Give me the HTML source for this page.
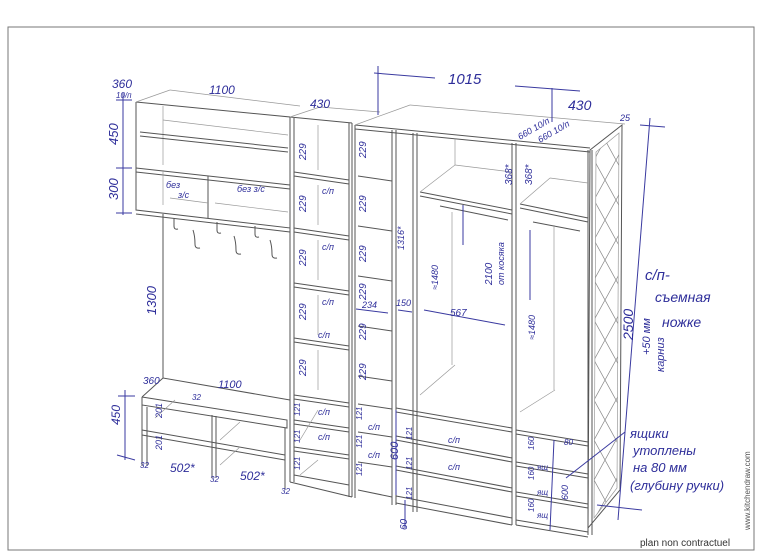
<!DOCTYPE html>
<html><head><meta charset="utf-8"><style>
html,body{margin:0;padding:0;background:#fff;}
svg{display:block}
.l{stroke:#555;stroke-width:1;fill:none}
.t{stroke:#999;stroke-width:.7;fill:none}
.b{stroke:#3a3aa0;stroke-width:1;fill:none}
text{font-family:"Liberation Sans","DejaVu Sans",sans-serif;fill:#2e2e9a;font-style:italic}
</style></head><body>
<svg width="770" height="555" viewBox="0 0 770 555" xmlns="http://www.w3.org/2000/svg">
<defs>
<pattern id="dia" width="22" height="40" patternUnits="userSpaceOnUse">
<path d="M0,0 L22,40 M22,0 L0,40" stroke="#888" stroke-width=".7" fill="none"/>
</pattern>
<clipPath id="door"><polygon points="596,152 619,133 617,488 594,518"/></clipPath>
</defs>
<rect x="8" y="27" width="746" height="523" fill="none" stroke="#777" stroke-width="1"/>

<!-- upper left shelf unit -->
<polyline class="l" points="136,102 290,117 290,228 136,210 136,102"/>
<line class="t" x1="136" y1="102" x2="170" y2="90"/>
<line class="t" x1="170" y1="90" x2="300" y2="106"/>
<line class="t" x1="163" y1="106" x2="163" y2="165"/>
<line class="l" x1="140" y1="132" x2="288" y2="148"/>
<line class="l" x1="140" y1="136" x2="288" y2="152"/>
<line class="t" x1="163" y1="120" x2="288" y2="135"/>
<line class="l" x1="136" y1="168" x2="290" y2="185"/>
<line class="l" x1="136" y1="172" x2="290" y2="189"/>
<line class="l" x1="208" y1="176" x2="208" y2="218"/>
<line class="t" x1="163" y1="170" x2="163" y2="205"/>
<line class="t" x1="170" y1="198" x2="208" y2="203"/>
<line class="t" x1="215" y1="203" x2="288" y2="212"/>
<line class="l" x1="136" y1="214" x2="290" y2="232"/>
<!-- hooks -->
<g class="l">
<path d="M174,218 v8 q0,4 4,3"/><path d="M217,222 v8 q0,4 4,3"/><path d="M255,226 v8 q0,4 4,3"/>
<path d="M193,230 q2,6 2,14 q0,5 5,4"/><path d="M234,236 q2,6 2,14 q0,5 5,4"/><path d="M270,240 q2,6 2,14 q0,5 5,4"/>
</g>
<!-- coat wall -->
<line class="l" x1="163" y1="214" x2="163" y2="378"/>
<!-- bench -->
<polyline class="l" points="142,397 163,378 290,400"/>
<polyline class="l" points="142,397 287,420 287,428 142,405 142,397"/>
<line class="l" x1="142" y1="405" x2="142" y2="466"/>
<line class="l" x1="147" y1="407" x2="147" y2="466"/>
<line class="l" x1="212" y1="415" x2="212" y2="478"/>
<line class="l" x1="216" y1="416" x2="216" y2="478"/>
<line class="l" x1="285" y1="428" x2="285" y2="490"/>
<line class="l" x1="142" y1="430" x2="285" y2="455"/>
<line class="l" x1="142" y1="435" x2="285" y2="460"/>
<line class="t" x1="155" y1="418" x2="175" y2="400"/>
<line class="t" x1="220" y1="440" x2="240" y2="422"/>
<line class="t" x1="220" y1="465" x2="240" y2="447"/>

<!-- column 1 -->
<line class="l" x1="290" y1="117" x2="290" y2="482"/>
<line class="l" x1="294" y1="118" x2="294" y2="482"/>
<line class="l" x1="349" y1="123" x2="349" y2="497"/>
<line class="l" x1="352" y1="123" x2="352" y2="497"/>
<line class="l" x1="290" y1="117" x2="352" y2="123"/>
<line class="t" x1="290" y1="117" x2="320" y2="107"/>
<line class="t" x1="320" y1="107" x2="380" y2="112"/>
<g class="l">
<path d="M294,172 L349,180 M294,176 L349,184"/>
<path d="M294,228 L349,236 M294,232 L349,240"/>
<path d="M294,283 L349,291 M294,287 L349,295"/>
<path d="M294,338 L349,346 M294,342 L349,350"/>
<path d="M294,395 L349,403 M294,399 L349,407"/>
<path d="M294,420 L349,428 M294,424 L349,432"/>
<path d="M294,447 L349,455 M294,451 L349,459"/>
<path d="M294,475 L349,485 M290,482 L352,497"/>
</g>
<g class="t">
<path d="M318,125 v45 M318,185 v40 M318,240 v40 M318,295 v40 M318,350 v40 M318,410 L300,440 M318,460 L300,475"/>
</g>

<!-- column 2 -->
<line class="l" x1="355" y1="125" x2="355" y2="498"/>
<line class="l" x1="392" y1="130" x2="392" y2="505"/>
<line class="l" x1="396" y1="130" x2="396" y2="505"/>
<line class="l" x1="355" y1="125" x2="590" y2="148"/>
<line class="l" x1="355" y1="129" x2="590" y2="152"/>
<line class="t" x1="355" y1="125" x2="410" y2="105"/>
<line class="t" x1="410" y1="105" x2="625" y2="124"/>
<g class="l">
<path d="M358,176 L392,181 M358,226 L392,231 M358,276 L392,281 M358,326 L392,331 M358,376 L392,381 M358,404 L392,409 M358,432 L392,437 M358,462 L392,467 M358,490 L392,497"/>
</g>
<!-- wardrobe -->
<line class="l" x1="413" y1="133" x2="413" y2="512"/>
<line class="l" x1="417" y1="133" x2="417" y2="512"/>
<line class="l" x1="512" y1="143" x2="512" y2="525"/>
<line class="l" x1="516" y1="143" x2="516" y2="525"/>
<line class="l" x1="420" y1="192" x2="512" y2="210"/>
<line class="l" x1="420" y1="196" x2="512" y2="214"/>
<line class="t" x1="420" y1="192" x2="455" y2="165"/>
<line class="t" x1="455" y1="165" x2="512" y2="172"/>
<line class="t" x1="455" y1="138" x2="455" y2="165"/>
<line class="l" x1="440" y1="206" x2="508" y2="220" stroke-width="2"/>
<line class="t" x1="452" y1="212" x2="452" y2="365"/>
<line class="t" x1="420" y1="395" x2="455" y2="365"/>
<g class="l">
<path d="M396,408 L512,428 M396,412 L512,432"/>
<path d="M396,436 L512,458 M396,440 L512,462"/>
<path d="M396,466 L512,488 M396,470 L512,492"/>
<path d="M396,496 L512,518 M396,503 L512,525"/>
</g>
<!-- right cabinet -->
<line class="l" x1="588" y1="150" x2="588" y2="535"/>
<line class="l" x1="592" y1="150" x2="592" y2="535"/>
<line class="l" x1="520" y1="204" x2="588" y2="218"/>
<line class="l" x1="520" y1="208" x2="588" y2="222"/>
<line class="t" x1="520" y1="204" x2="550" y2="178"/>
<line class="t" x1="550" y1="178" x2="588" y2="183"/>
<line class="l" x1="533" y1="222" x2="580" y2="231" stroke-width="2"/>
<line class="t" x1="554" y1="225" x2="554" y2="390"/>
<line class="t" x1="520" y1="412" x2="555" y2="390"/>
<g class="l">
<path d="M516,430 L588,442 M516,434 L588,446"/>
<path d="M516,462 L588,474 M516,466 L588,478"/>
<path d="M516,492 L588,504 M516,496 L588,508"/>
<path d="M516,520 L588,532 M516,525 L588,537"/>
</g>
<!-- mirror door -->
<polygon class="l" points="590,150 622,125 620,490 588,528"/>
<polygon class="t" points="596,152 619,133 617,488 594,518"/>
<rect x="585" y="120" width="45" height="410" fill="url(#dia)" clip-path="url(#door)"/>

<!-- dimension lines -->
<g class="b">
<line x1="123" y1="93" x2="123" y2="215"/>
<line x1="116" y1="100" x2="132" y2="100"/><line x1="116" y1="168" x2="132" y2="168"/><line x1="116" y1="213" x2="132" y2="213"/>
<line x1="125" y1="390" x2="125" y2="460"/>
<line x1="118" y1="396" x2="135" y2="396"/><line x1="117" y1="455" x2="135" y2="460"/>
<line x1="378" y1="66" x2="378" y2="115"/>
<line x1="374" y1="73" x2="435" y2="78"/>
<line x1="515" y1="86" x2="580" y2="91"/>
<line x1="552" y1="88" x2="552" y2="122"/>
<line x1="650" y1="118" x2="618" y2="520"/>
<line x1="640" y1="125" x2="665" y2="127"/>
<line x1="597" y1="505" x2="642" y2="510"/>
<line x1="463" y1="205" x2="463" y2="245"/>
<line x1="424" y1="310" x2="505" y2="325"/>
<line x1="398" y1="310" x2="412" y2="312"/>
<line x1="356" y1="309" x2="388" y2="313"/>
<line x1="396" y1="410" x2="396" y2="495"/>
<line x1="405" y1="500" x2="405" y2="528"/>
<line x1="554" y1="440" x2="550" y2="530"/>
<line x1="625" y1="432" x2="566" y2="478"/>
<line x1="530" y1="230" x2="530" y2="300"/>
</g>

<!-- labels -->
<g font-size="12">
<text x="112" y="88">360</text>
<text x="116" y="98" font-size="8">10/п</text>
<text x="209" y="94">1100</text>
<text x="310" y="108">430</text>
<text x="448" y="84" font-size="15">1015</text>
<text x="568" y="110" font-size="14">430</text>
<text x="620" y="121" font-size="9">25</text>
<text transform="translate(520,140) rotate(-30)" font-size="9">660 10/п</text>
<text transform="translate(540,143) rotate(-30)" font-size="9">660 10/п</text>
<text transform="translate(118,145) rotate(-90)" font-size="13">450</text>
<text transform="translate(118,200) rotate(-90)" font-size="13">300</text>
<text x="166" y="188" font-size="9">без</text><text x="178" y="198" font-size="9">з/с</text>
<text x="237" y="192" font-size="9">без з/с</text>
<text transform="translate(156,315) rotate(-90)" font-size="13">1300</text>
<text x="143" y="384" font-size="10">360</text>
<text x="218" y="388" font-size="11">1100</text>
<text transform="translate(120,425) rotate(-90)" font-size="12">450</text>
<text transform="translate(162,418) rotate(-90)" font-size="9">201</text>
<text transform="translate(162,450) rotate(-90)" font-size="9">201</text>
<text x="170" y="472" font-size="12">502*</text>
<text x="240" y="480" font-size="12">502*</text>
<text x="140" y="468" font-size="8">32</text>
<text x="210" y="482" font-size="8">32</text>
<text x="281" y="494" font-size="8">32</text>
<text x="192" y="400" font-size="8">32</text>
<g font-size="10">
<text transform="translate(306,160) rotate(-90)">229</text>
<text transform="translate(306,212) rotate(-90)">229</text>
<text transform="translate(306,266) rotate(-90)">229</text>
<text transform="translate(306,320) rotate(-90)">229</text>
<text transform="translate(306,376) rotate(-90)">229</text>
<text transform="translate(366,158) rotate(-90)">229</text>
<text transform="translate(366,212) rotate(-90)">229</text>
<text transform="translate(366,262) rotate(-90)">229</text>
<text transform="translate(366,300) rotate(-90)">229</text>
<text transform="translate(366,340) rotate(-90)">229</text>
<text transform="translate(366,380) rotate(-90)">229</text>
<text transform="translate(300,416) rotate(-90)" font-size="8">121</text>
<text transform="translate(300,443) rotate(-90)" font-size="8">121</text>
<text transform="translate(300,470) rotate(-90)" font-size="8">121</text>
<text transform="translate(362,420) rotate(-90)" font-size="8">121</text>
<text transform="translate(362,448) rotate(-90)" font-size="8">121</text>
<text transform="translate(362,476) rotate(-90)" font-size="8">121</text>
<text x="322" y="194" font-size="9">с/п</text>
<text x="322" y="250" font-size="9">с/п</text>
<text x="322" y="305" font-size="9">с/п</text>
<text x="318" y="338" font-size="9">с/п</text>
<text x="318" y="415" font-size="9">с/п</text>
<text x="318" y="440" font-size="9">с/п</text>
<text x="368" y="430" font-size="9">с/п</text>
<text x="368" y="458" font-size="9">с/п</text>
<text x="448" y="443" font-size="9">с/п</text>
<text x="448" y="470" font-size="9">с/п</text>
<text transform="translate(404,250) rotate(-90)" font-size="9">1316*</text>
<text x="362" y="308" font-size="9">234</text>
<text x="396" y="306" font-size="9">150</text>
<text x="450" y="316" font-size="10">567</text>
<text transform="translate(438,290) rotate(-90)" font-size="9">≈1480</text>
<text transform="translate(492,285) rotate(-90)" font-size="10">2100</text>
<text transform="translate(504,285) rotate(-90)" font-size="9">от косяка</text>
<text transform="translate(512,185) rotate(-90)" font-size="10">368*</text>
<text transform="translate(532,185) rotate(-90)" font-size="10">368*</text>
<text transform="translate(535,340) rotate(-90)" font-size="9">≈1480</text>
<text transform="translate(398,460) rotate(-90)" font-size="11">600</text>
<text transform="translate(412,440) rotate(-90)" font-size="8">121</text>
<text transform="translate(412,470) rotate(-90)" font-size="8">121</text>
<text transform="translate(412,500) rotate(-90)" font-size="8">121</text>
<text transform="translate(407,530) rotate(-90)" font-size="10">60</text>
<text transform="translate(534,450) rotate(-90)" font-size="8">160</text>
<text transform="translate(534,480) rotate(-90)" font-size="8">160</text>
<text transform="translate(534,512) rotate(-90)" font-size="8">160</text>
<text x="537" y="470" font-size="8">ящ</text>
<text x="537" y="495" font-size="8">ящ</text>
<text x="537" y="518" font-size="8">ящ</text>
<text transform="translate(568,500) rotate(-90)" font-size="9">600</text>
<text x="564" y="445" font-size="8">80</text>
</g>
<text transform="translate(633,340) rotate(-90)" font-size="14">2500</text>
<text transform="translate(650,355) rotate(-90)" font-size="11">+50 мм</text>
<text transform="translate(664,372) rotate(-90)" font-size="11">карниз</text>
<text x="645" y="280" font-size="15">с/п-</text>
<text x="655" y="302" font-size="14">съемная</text>
<text x="662" y="327" font-size="14">ножке</text>
<text x="630" y="438" font-size="13">ящики</text>
<text x="633" y="455" font-size="13">утоплены</text>
<text x="633" y="472" font-size="13">на 80 мм</text>
<text x="630" y="490" font-size="13">(глубину ручки)</text>
</g>
<text x="640" y="546" font-size="10" style="font-style:normal;fill:#333">plan non contractuel</text>
<text transform="translate(750,530) rotate(-90)" font-size="8" style="font-style:normal;fill:#555">www.kitchendraw.com</text>
</svg>
</body></html>
